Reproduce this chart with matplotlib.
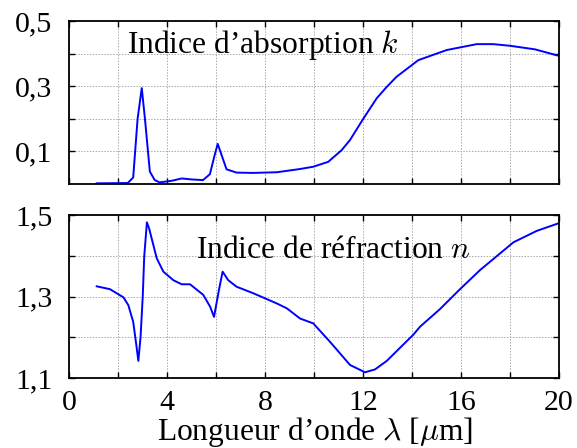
import numpy as np
import matplotlib
matplotlib.use('Agg')
import matplotlib.pyplot as plt
from matplotlib.ticker import FixedLocator, FuncFormatter

plt.rcParams['font.family'] = ['Liberation Serif', 'DejaVu Serif']
plt.rcParams['mathtext.fontset'] = 'cm'

# Indice d'absorption k
lam_k = [1.13, 2.4, 2.62, 2.8, 2.97, 3.1, 3.3, 3.5, 3.7, 4.2, 4.6, 5.0, 5.47, 5.75, 5.95, 6.07, 6.2, 6.43, 6.84, 7.5, 8.48,
         9.43, 9.97, 10.58, 11.13, 11.47, 12.01, 12.56, 12.97, 13.37, 14.26, 15.42, 16.64, 17.32, 18.0, 19.02, 20.0]
k_vals = [0.002, 0.003, 0.02, 0.2, 0.294, 0.2, 0.038, 0.012, 0.005, 0.01, 0.017, 0.014, 0.012, 0.03, 0.09, 0.123, 0.095,
          0.045, 0.035, 0.034, 0.036, 0.046, 0.053, 0.068, 0.104, 0.135, 0.2, 0.263, 0.298, 0.329, 0.380, 0.411, 0.429,
          0.429, 0.424, 0.413, 0.393]

# Indice de réfraction n
lam_n = [1.13, 1.67, 2.22, 2.42, 2.62, 2.75, 2.83, 2.92, 3.01, 3.07, 3.18, 3.27, 3.41, 3.58, 3.85, 4.26, 4.6, 4.94, 5.48,
         5.76, 5.92, 6.12, 6.27, 6.5, 6.84, 7.52, 8.48, 8.89, 9.43, 9.97, 10.65, 11.47, 12.08, 12.49, 12.97, 14.05,
         14.33, 15.14, 15.96, 16.78, 18.14, 19.09, 20.0]
n_vals = [1.325, 1.318, 1.298, 1.279, 1.238, 1.18, 1.142, 1.2, 1.3, 1.398, 1.482, 1.467, 1.434, 1.394, 1.361, 1.340,
          1.330, 1.330, 1.304, 1.275, 1.25, 1.316, 1.361, 1.34, 1.324, 1.308, 1.283, 1.271, 1.246, 1.234, 1.189,
          1.132, 1.114, 1.121, 1.142, 1.206, 1.226, 1.269, 1.318, 1.365, 1.433, 1.461, 1.48]

fig = plt.figure(figsize=(5.77, 4.48), dpi=100)
ax1 = fig.add_axes([69/577, 1-184/448, 490/577, 163/448])
ax2 = fig.add_axes([69/577, 1-378/448, 490/577, 163/448])

virg = FuncFormatter(lambda v, p: ('%g' % v).replace('.', ','))

for ax in (ax1, ax2):
    ax.set_xlim(0, 20)
    ax.xaxis.set_major_locator(FixedLocator([0, 4, 8, 12, 16, 20]))
    ax.xaxis.set_minor_locator(FixedLocator([2, 6, 10, 14, 18]))
    ax.grid(True, which='both', color='#aaaaaa', linestyle=(0, (1.5, 1.5)), linewidth=0.7)
    ax.tick_params(which='both', direction='in', top=True, right=True, length=4, width=1, labelsize=21.5)
    ax.tick_params(axis='y', pad=12)
    ax.tick_params(axis='x', pad=8.5)
    for s in ax.spines.values():
        s.set_linewidth(1.3)
    ax.yaxis.set_major_formatter(virg)

ax1.plot(lam_k, k_vals, color='#0000ff', linewidth=1.4)
ax1.set_ylim(0, 0.5)
ax1.yaxis.set_major_locator(FixedLocator([0.1, 0.3, 0.5]))
ax1.yaxis.set_minor_locator(FixedLocator([0.2, 0.4]))
ax1.tick_params(labelbottom=False)
ax1.text(2.38, 0.401, 'Indice d’absorption $k$', fontsize=22.7, ha='left', va='baseline')

ax2.plot(lam_n, n_vals, color='#0000ff', linewidth=1.4)
ax2.set_ylim(1.1, 1.5)
ax2.yaxis.set_major_locator(FixedLocator([1.1, 1.3, 1.5]))
ax2.yaxis.set_minor_locator(FixedLocator([1.2, 1.4]))
ax2.xaxis.set_major_formatter(virg)
ax2.text(5.17, 1.394, 'Indice de réfraction $n$', fontsize=22.7, ha='left', va='baseline')

fig.text(315.5/577, 1-440/448, 'Longueur d’onde $\\lambda$ [$\\mu$m]', fontsize=22.7, ha='center', va='baseline')

fig.savefig('out.png', dpi=100)
